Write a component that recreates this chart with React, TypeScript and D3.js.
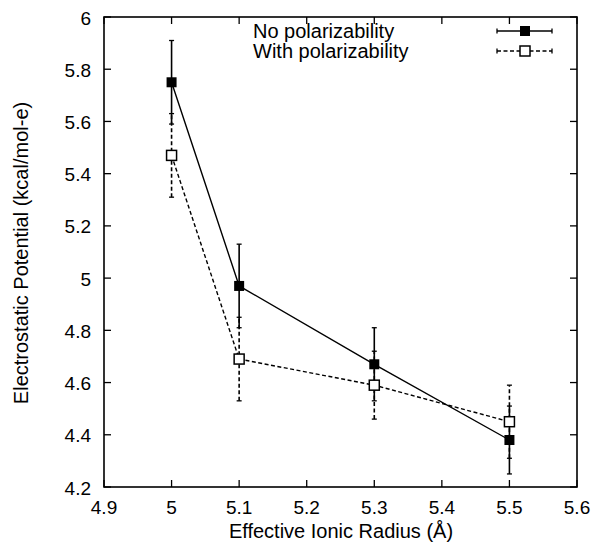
import React from "react";
import * as d3 from "d3";

const radii = [5.0, 5.1, 5.3, 5.5];
const noPolValues = [5.75, 4.97, 4.67, 4.38];
const noPolErrors = [0.16, 0.16, 0.14, 0.13];
const withPolValues = [5.47, 4.69, 4.59, 4.45];
const withPolErrors = [0.16, 0.16, 0.13, 0.14];
const xTicks = [4.9, 5.0, 5.1, 5.2, 5.3, 5.4, 5.5, 5.6];
const yTicks = [4.2, 4.4, 4.6, 4.8, 5.0, 5.2, 5.4, 5.6, 5.8, 6.0];
const seriesNames = ["No polarizability", "With polarizability"];

const W = 595;
const H = 548;
const left = 104;
const right = 577;
const top = 17;
const bottom = 487;
const FONT = "'Liberation Sans', Arial, Helvetica, sans-serif";

export default function App() {
  const x = d3.scaleLinear().domain([4.9, 5.6]).range([left, right]);
  const y = d3.scaleLinear().domain([4.2, 6.0]).range([bottom, top]);
  const line = d3
    .line<[number, number]>()
    .x((d) => x(d[0]))
    .y((d) => y(d[1]));

  const series = [
    { name: seriesNames[0], values: noPolValues, errors: noPolErrors, dash: undefined as string | undefined, filled: true },
    { name: seriesNames[1], values: withPolValues, errors: withPolErrors, dash: "4,2.5", filled: false },
  ];
  const tickLen = 7;
  const ms = 10;
  const cap = 2.5;

  return (
    <svg width={W} height={H} style={{ position: "absolute", left: 0, top: 0, background: "#fff" }} fontFamily={FONT}>
      <rect x={0} y={0} width={W} height={H} fill="#fff" />
      {/* ticks */}
      {xTicks.map((t, i) => (
        <g key={"xt" + i}>
          <line x1={x(t)} x2={x(t)} y1={bottom} y2={bottom - tickLen} stroke="#000" strokeWidth={1.3} />
          <line x1={x(t)} x2={x(t)} y1={top} y2={top + tickLen} stroke="#000" strokeWidth={1.3} />
          <text x={x(t)} y={bottom + 27} textAnchor="middle" fontSize={19} fill="#000">
            {d3.format("~g")(+t.toFixed(1))}
          </text>
        </g>
      ))}
      {yTicks.map((t, i) => (
        <g key={"yt" + i}>
          <line x1={left} x2={left + tickLen} y1={y(t)} y2={y(t)} stroke="#000" strokeWidth={1.3} />
          <line x1={right} x2={right - tickLen} y1={y(t)} y2={y(t)} stroke="#000" strokeWidth={1.3} />
          <text x={91} y={y(t)} dy="0.4em" textAnchor="end" fontSize={19} fill="#000">
            {d3.format("~g")(+t.toFixed(1))}
          </text>
        </g>
      ))}
      <rect x={left} y={top} width={right - left} height={bottom - top} fill="none" stroke="#000" strokeWidth={1.6} />

      {/* series */}
      {series.map((s, si) => {
        const pts: [number, number][] = radii.map((r, i) => [r, s.values[i]]);
        return (
          <g key={"s" + si}>
            <path d={line(pts) || ""} fill="none" stroke="#000" strokeWidth={1.4} strokeDasharray={s.dash} />
            {radii.map((r, i) => (
              <g key={"e" + i}>
                <line x1={x(r)} x2={x(r)} y1={y(s.values[i] - s.errors[i])} y2={y(s.values[i] + s.errors[i])} stroke="#000" strokeWidth={1.6} strokeDasharray={s.dash} />
                <line x1={x(r) - cap} x2={x(r) + cap} y1={y(s.values[i] - s.errors[i])} y2={y(s.values[i] - s.errors[i])} stroke="#000" strokeWidth={1.3} />
                <line x1={x(r) - cap} x2={x(r) + cap} y1={y(s.values[i] + s.errors[i])} y2={y(s.values[i] + s.errors[i])} stroke="#000" strokeWidth={1.3} />
              </g>
            ))}
            {radii.map((r, i) => (
              <rect key={"m" + i} x={x(r) - ms / 2} y={y(s.values[i]) - ms / 2} width={ms} height={ms} fill={s.filled ? "#000" : "#fff"} stroke="#000" strokeWidth={s.filled ? 0 : 1.5} />
            ))}
          </g>
        );
      })}

      {/* legend */}
      {series.map((s, si) => {
        const ly = 31 + si * 20;
        return (
          <g key={"l" + si}>
            <text x={253} y={ly} dy="0.36em" fontSize={20} fill="#000">
              {s.name}
            </text>
            <line x1={497} x2={552} y1={ly} y2={ly} stroke="#000" strokeWidth={1.4} strokeDasharray={s.dash} />
            <line x1={497} x2={497} y1={ly - cap} y2={ly + cap} stroke="#000" strokeWidth={1.3} />
            <line x1={552} x2={552} y1={ly - cap} y2={ly + cap} stroke="#000" strokeWidth={1.3} />
            <rect x={525 - ms / 2} y={ly - ms / 2} width={ms} height={ms} fill={s.filled ? "#000" : "#fff"} stroke="#000" strokeWidth={s.filled ? 0 : 1.5} />
          </g>
        );
      })}

      {/* axis titles */}
      <text x={341} y={538} textAnchor="middle" fontSize={20} fill="#000">
        Effective Ionic Radius (Å)
      </text>
      <text transform={`translate(28, ${253}) rotate(-90)`} textAnchor="middle" fontSize={20} fill="#000">
        Electrostatic Potential (kcal/mol-e)
      </text>
    </svg>
  );
}
